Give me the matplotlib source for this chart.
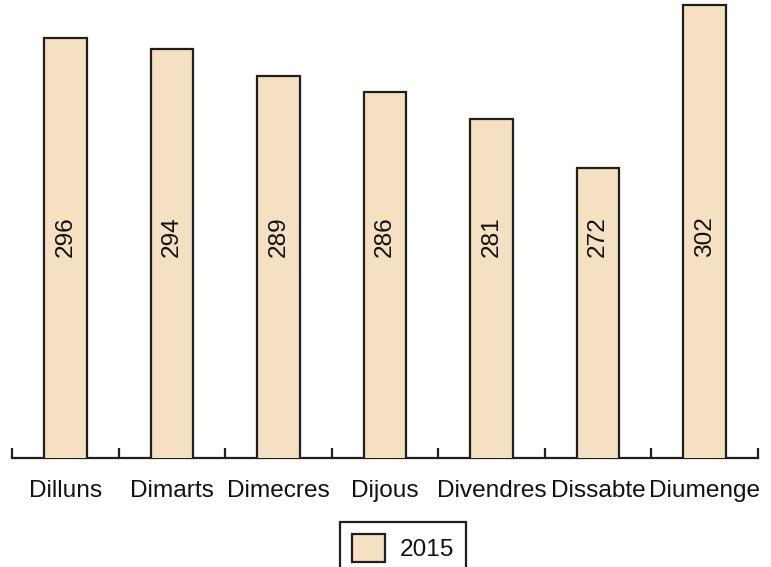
import matplotlib
matplotlib.use("Agg")
import matplotlib.pyplot as plt
import matplotlib.transforms as mtransforms
import numpy as np

days = ["Dilluns", "Dimarts", "Dimecres", "Dijous", "Divendres", "Dissabte", "Diumenge"]
values_2015 = [296, 294, 289, 286, 281, 272, 302]
series_name = "2015"

plt.rcParams["font.family"] = ["Liberation Sans", "DejaVu Sans"]
FS = 17.6

fig = plt.figure(figsize=(7.71, 5.67), dpi=100)
ax = fig.add_axes([12 / 771, 109 / 567, 746 / 771, 458 / 567])

x = np.arange(len(days))
bars = ax.bar(x, values_2015, width=0.4, color="#F5E1C1", edgecolor="#1e1e1e",
              linewidth=1.6, label=series_name, zorder=3)

ax.set_xlim(-0.5, len(days) - 0.5)
ax.set_ylim(218.5, 303.0)

# value labels, rotated, at a common height inside each bar
trans = mtransforms.blended_transform_factory(ax.transData, ax.transAxes)
for xi, v in zip(x, values_2015):
    ax.text(xi, 0.4825, f"{v}", rotation=90, ha="center", va="center",
            fontsize=FS, color="#111111", transform=trans, zorder=4)

for side in ("left", "right", "top"):
    ax.spines[side].set_visible(False)
ax.spines["bottom"].set_linewidth(1.6)
ax.spines["bottom"].set_color("#1e1e1e")
ax.yaxis.set_visible(False)

ax.set_xticks(x)
ax.set_xticklabels(days, fontsize=FS, color="#111111")
ax.tick_params(axis="x", which="major", length=0, pad=16)
ax.set_xticks(np.arange(-0.5, len(days)), minor=True)
ax.tick_params(axis="x", which="minor", direction="in", length=7.5, width=1.6,
               color="#1e1e1e")

leg = fig.legend(handles=[bars], labels=[series_name], loc="upper left",
                 bbox_to_anchor=(340 / 771, 1 - 522 / 567), fontsize=FS,
                 frameon=True, fancybox=False, framealpha=1,
                 handlelength=1.35, handleheight=1.35,
                 borderpad=0.5, handletextpad=0.6, borderaxespad=0)
leg.get_frame().set_edgecolor("#1e1e1e")
leg.get_frame().set_linewidth(1.6)
for t in leg.get_texts():
    t.set_color("#111111")

fig.savefig("out.png", dpi=100)
